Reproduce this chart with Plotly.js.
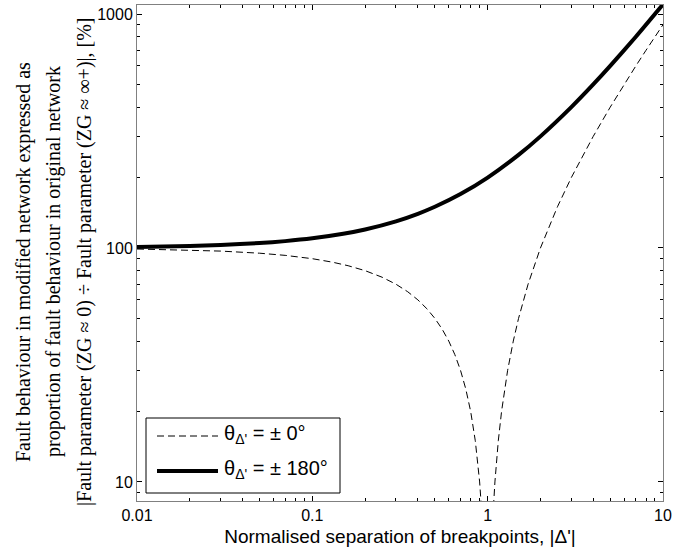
<!DOCTYPE html>
<html>
<head>
<meta charset="utf-8">
<script src="https://cdn.plot.ly/plotly-3.0.1.min.js"></script>
<style>html,body{margin:0;padding:0;background:#fff;}#chart{width:690px;height:559px;}</style>
</head>
<body>
<div id="chart"></div>
<script>
// theta = ±0° (dashed), left branch and right branch of the dip at |Δ'| = 1
var xZeroLeft  = [0.01, 0.02, 0.03, 0.05, 0.07, 0.1, 0.13, 0.16, 0.2, 0.25, 0.3, 0.35, 0.4, 0.45, 0.5, 0.55, 0.6, 0.65, 0.7, 0.75, 0.8, 0.85, 0.9, 0.93, 0.96, 0.99];
var yZeroLeft  = [99, 98, 97, 95, 93, 90, 87, 84, 80, 75, 70, 65, 60, 55, 50, 45, 40, 35, 30, 25, 20, 15, 10, 7, 4, 1];
var xZeroRight = [1.01, 1.04, 1.07, 1.1, 1.15, 1.2, 1.3, 1.4, 1.5, 1.7, 2, 2.5, 3, 4, 5, 6, 7, 8, 10];
var yZeroRight = [1, 4, 7, 10, 15, 20, 30, 40, 50, 70, 100, 150, 200, 300, 400, 500, 600, 700, 900];
// theta = ±180° (thick solid)
var x180 = [0.01, 0.02, 0.03, 0.05, 0.07, 0.1, 0.15, 0.2, 0.3, 0.4, 0.5, 0.7, 1, 1.5, 2, 3, 4, 5, 7, 10];
var y180 = [101, 102, 103, 105, 107, 110, 115, 120, 130, 140, 150, 170, 200, 250, 300, 400, 500, 600, 800, 1100];

var xTickVals = [0.01, 0.1, 1, 10];
var xTickText = ['0.01', '0.1', '1', '10'];
var yTickVals = [10, 100, 1000];
var yTickText = ['10', '100', '1000'];

var yTitleLines = [
  'Fault behaviour in modified network expressed as',
  'proportion of fault behaviour in original network',
  '|Fault parameter (ZG \u2248 0) \u00f7 Fault parameter (ZG \u2248 \u221e+)|, [%]'
];
var xTitle = "Normalised separation of breakpoints, |\u0394'|";
var legendNames = ["\u03b8<sub>\u0394'</sub> = \u00b1 0\u00b0", "\u03b8<sub>\u0394'</sub> = \u00b1 180\u00b0"];

function minorVals(lo, hi) {
  var v = [];
  for (var d = lo; d < hi; d++) {
    for (var k = 2; k <= 9; k++) v.push(k * Math.pow(10, d));
  }
  return v;
}

var xNaN = xZeroLeft.concat([1]).concat(xZeroRight);
var yNaN = yZeroLeft.concat([null]).concat(yZeroRight);

var styles = [
  {color: '#000', width: 1, dash: '7px,4px'},
  {color: '#000', width: 4, dash: 'solid'}
];

var traces = [
  {x: xNaN, y: yNaN, mode: 'lines', name: legendNames[0], connectgaps: false,
   showlegend: false, line: styles[0]},
  {x: x180, y: y180, mode: 'lines', name: legendNames[1], showlegend: false,
   line: {color: styles[1].color, width: styles[1].width, shape: 'spline', smoothing: 0.6}}
];

var L = 137, R = 663, T = 5, B = 501;
var W = R - L, H = B - T;
function px(p) { return (p - L) / W; }
function py(p) { return (B - p) / H; }

var annotations = [];
var shapes = [];
var lineX = [24, 54, 85];
for (var i = 0; i < yTitleLines.length; i++) {
  annotations.push({
    text: yTitleLines[i], xref: 'paper', yref: 'paper',
    x: px(lineX[i]), y: py(262), xanchor: 'center', yanchor: 'middle',
    textangle: -90, showarrow: false,
    font: {family: 'Liberation Serif, Times New Roman, serif', size: 20, color: '#000'}
  });
}

// legend box drawn as a framed panel with line samples and labels
var legBox = {x0: 146, x1: 340, y0: 418, y1: 493};
shapes.push({type: 'rect', xref: 'paper', yref: 'paper',
  x0: px(legBox.x0), x1: px(legBox.x1), y0: py(legBox.y1), y1: py(legBox.y0),
  line: {color: '#000', width: 1}, fillcolor: '#fff', layer: 'above'});
var rowY = [436, 471];
for (var j = 0; j < legendNames.length; j++) {
  shapes.push({type: 'line', xref: 'paper', yref: 'paper',
    x0: px(157), x1: px(218), y0: py(rowY[j]), y1: py(rowY[j]),
    line: styles[j], layer: 'above'});
  annotations.push({text: legendNames[j], xref: 'paper', yref: 'paper',
    x: px(222), y: py(rowY[j] - 2), xanchor: 'left', yanchor: 'middle', showarrow: false,
    font: {family: 'Liberation Sans, Arial, sans-serif', size: 20, color: '#000'}});
}

var axisCommon = {
  type: 'log', showgrid: false, zeroline: false,
  showline: true, linecolor: '#808080', linewidth: 1, mirror: 'ticks',
  ticks: 'inside', ticklen: 5, tickcolor: '#000', tickwidth: 1,
  tickfont: {family: 'Liberation Sans, Arial, sans-serif', size: 16, color: '#000'}
};

var layout = {
  width: 690, height: 559,
  margin: {l: L, r: 690 - R, t: T, b: 559 - B},
  paper_bgcolor: '#fff', plot_bgcolor: '#fff',
  showlegend: false,
  xaxis: Object.assign({}, axisCommon, {
    range: [Math.log10(0.01), Math.log10(10)],
    tickmode: 'array', tickvals: xTickVals, ticktext: xTickText,
    minor: {tickmode: 'array', tickvals: minorVals(-2, 1), ticks: 'inside', ticklen: 3, tickcolor: '#000'},
    title: {text: xTitle, standoff: 6, font: {family: 'Liberation Sans, Arial, sans-serif', size: 19, color: '#000'}}
  }),
  yaxis: Object.assign({}, axisCommon, {
    range: [Math.log10(8.29), Math.log10(1093)],
    tickmode: 'array', tickvals: yTickVals, ticktext: yTickText,
    minor: {tickmode: 'array', tickvals: minorVals(0, 3), ticks: 'inside', ticklen: 3, tickcolor: '#000'}
  }),
  shapes: shapes,
  annotations: annotations
};

Plotly.newPlot('chart', traces, layout, {displayModeBar: false, staticPlot: true});
</script>
</body>
</html>
